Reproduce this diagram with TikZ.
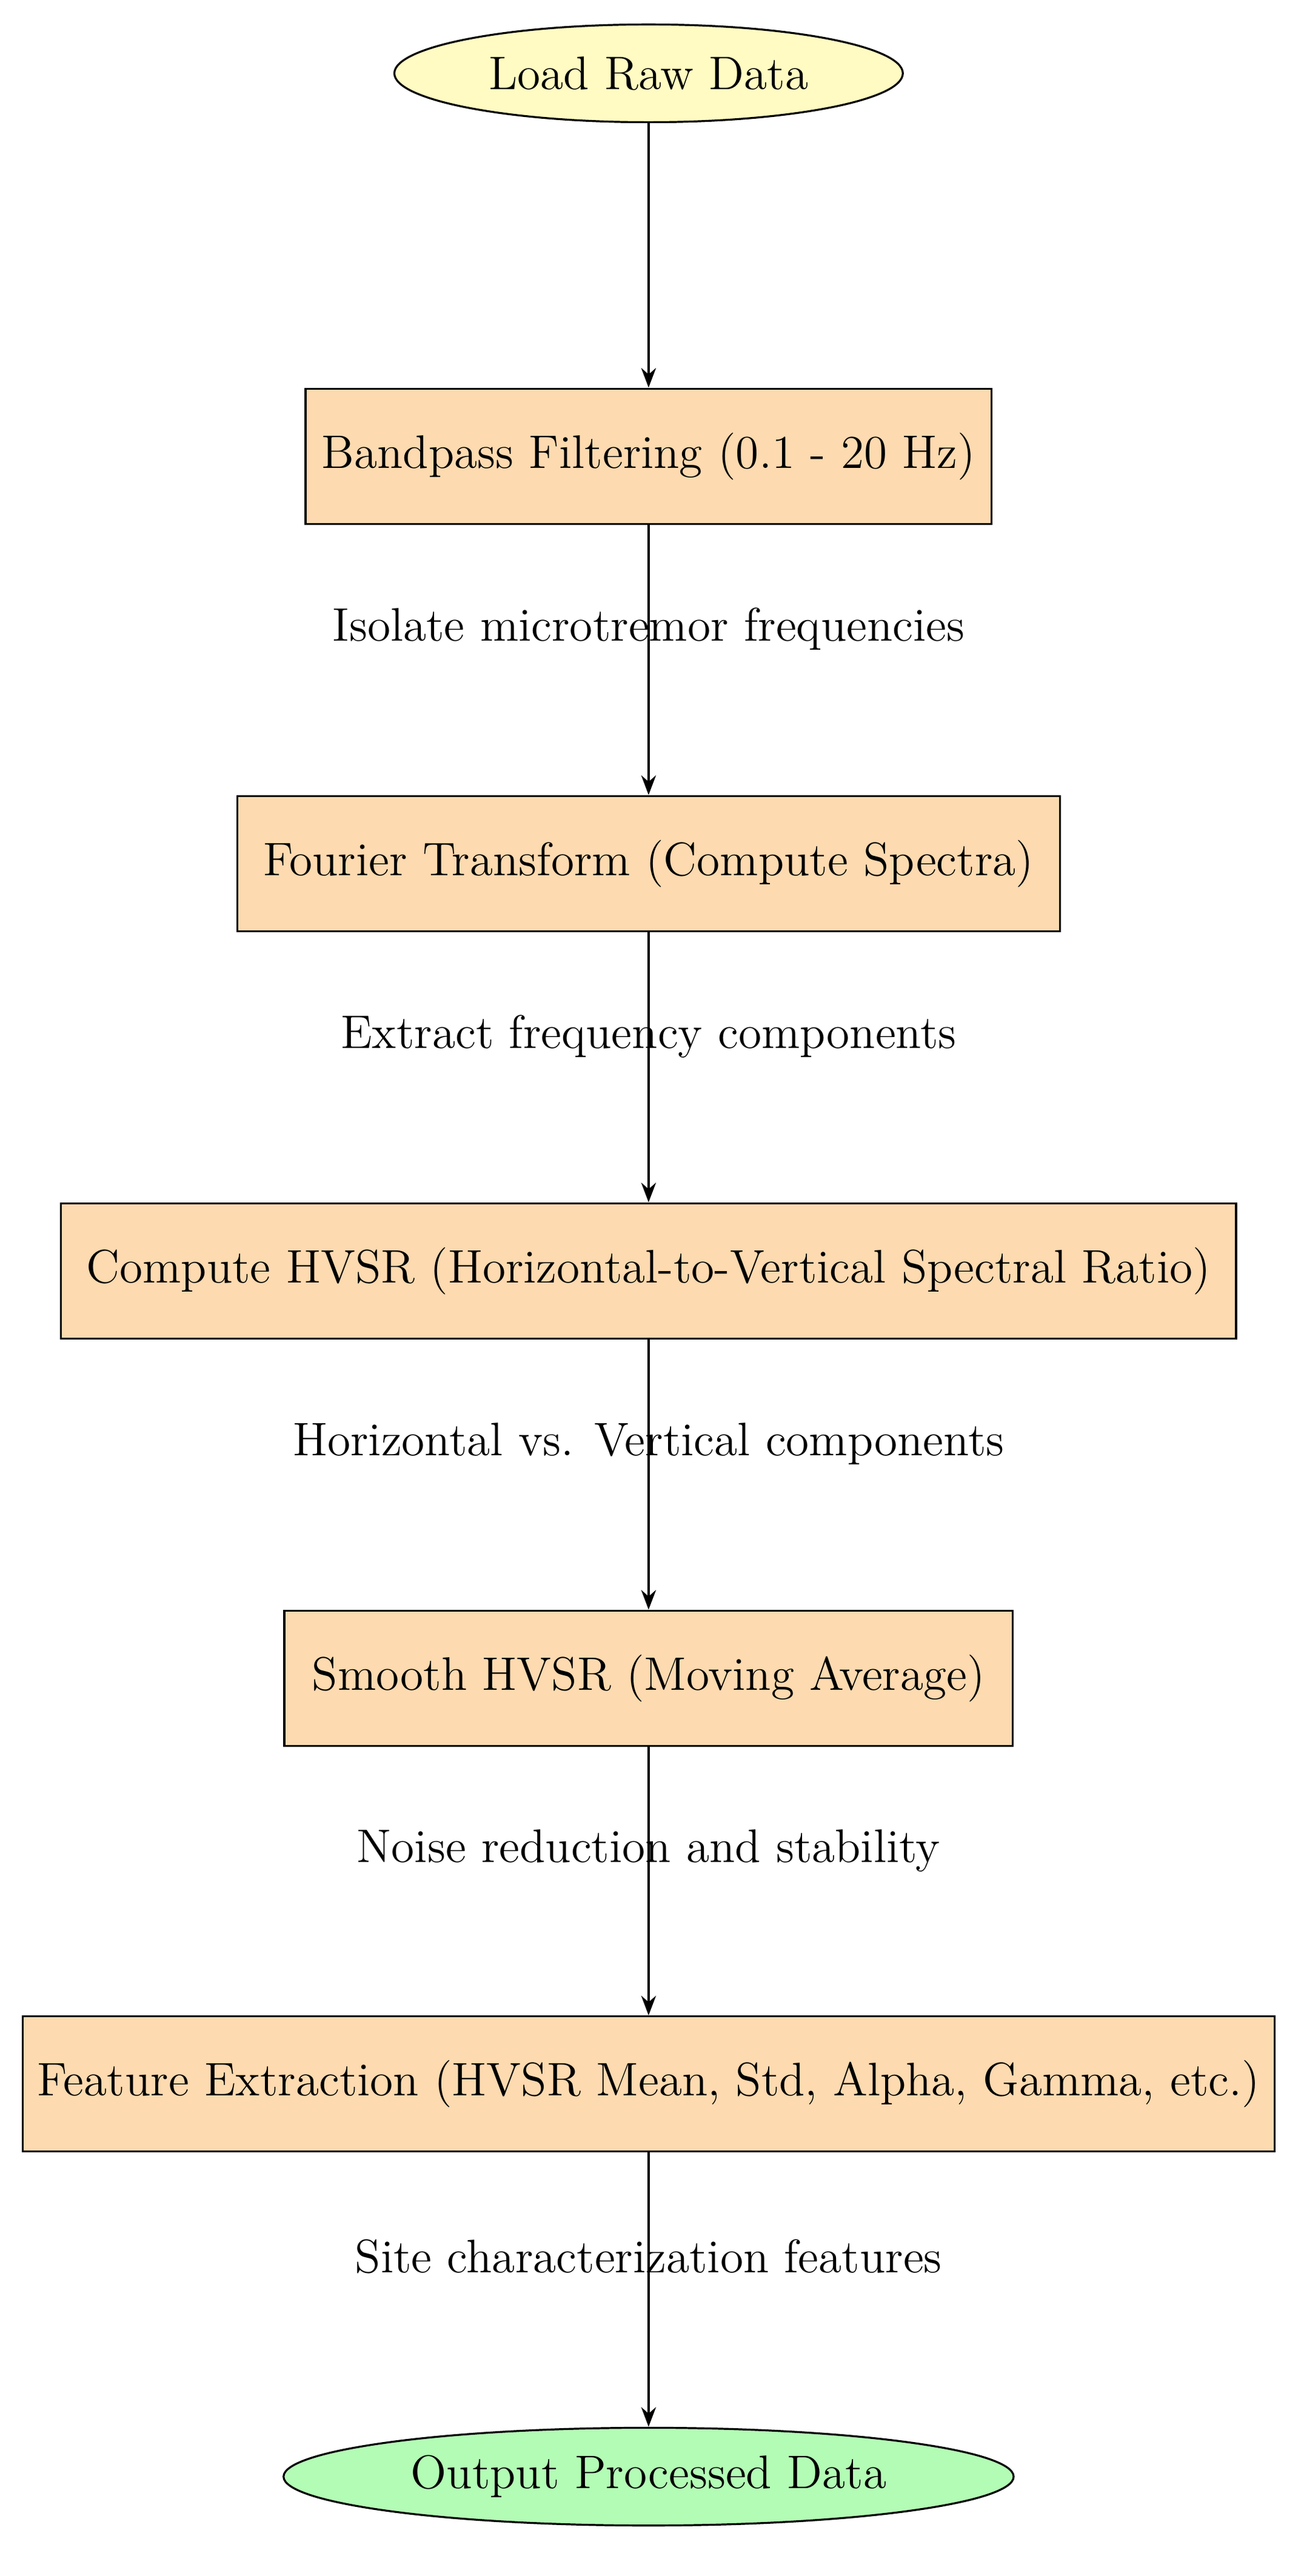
\documentclass[tikz,border=0pt]{standalone}
\usetikzlibrary{shapes.geometric,arrows.meta}
\begin{document}
\begin{tikzpicture}[x=0.5bp,y=-0.5bp,
  every node/.style={font=\fontsize{14.5}{17}\selectfont},
  box/.style={draw,semithick,fill=boxc,minimum height=41.5bp,inner xsep=4bp},
  ell/.style={draw,semithick,ellipse,minimum height=30bp},
  lbl/.style={},
  arr/.style={draw,thick,-{Stealth[length=6bp,width=4.5bp]}}]
\definecolor{boxc}{HTML}{FDDAB0}
\definecolor{yel}{HTML}{FFFBC2}
\definecolor{grn}{HTML}{B3FCB5}
\useasboundingbox (0,0) rectangle (800,1581);
\node[ell,fill=yel,minimum width=156bp] (a) at (398,45) {Load Raw Data};
\node[box,minimum width=210.5bp] (b) at (398,280) {Bandpass Filtering (0.1 - 20 Hz)};
\node[box,minimum width=252.5bp] (c) at (398,530) {Fourier Transform (Compute Spectra)};
\node[box,minimum width=360.5bp] (d) at (398,780) {Compute HVSR (Horizontal-to-Vertical Spectral Ratio)};
\node[box,minimum width=223.5bp] (e) at (398,1030) {Smooth HVSR (Moving Average)};
\node[box,minimum width=384bp] (f) at (398,1279) {Feature Extraction (HVSR Mean, Std, Alpha, Gamma, etc.)};
\node[ell,fill=grn,minimum width=224bp] (g) at (398,1520) {Output Processed Data};
\draw[arr] (a) -- (b);
\draw[arr] (b) -- (c);
\draw[arr] (c) -- (d);
\draw[arr] (d) -- (e);
\draw[arr] (e) -- (f);
\draw[arr] (f) -- (g);
\node[lbl] (l1) at (398,386) {Isolate microtremor frequencies};
\node[lbl] (l2) at (398,636) {Extract frequency components};
\node[lbl] (l3) at (398,886) {Horizontal vs. Vertical components};
\node[lbl] (l4) at (398,1136) {Noise reduction and stability};
\node[lbl] (l5) at (398,1385) {Site characterization features};
\end{tikzpicture}
\end{document}
